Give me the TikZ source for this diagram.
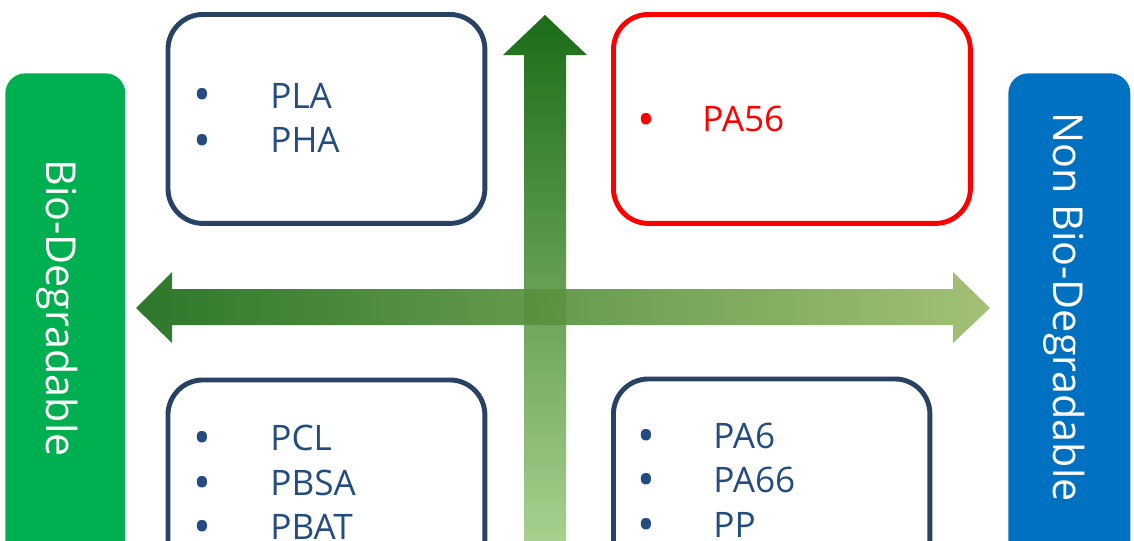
\documentclass[tikz,border=0pt]{standalone}
\usepackage{fontspec}
\setmainfont{Open Sans}
\usepackage{xcolor}
\definecolor{bioGreen}{RGB}{0,176,80}
\definecolor{nonBlue}{RGB}{0,112,192}
\definecolor{boxBlue}{RGB}{40,66,100}
\definecolor{itemBlue}{RGB}{36,76,126}
\definecolor{itemRed}{RGB}{255,0,0}
\definecolor{arrowDark}{RGB}{28,108,24}
\definecolor{arrowLight}{RGB}{168,208,142}
\definecolor{arrowOlive}{RGB}{155,187,106}

\begin{document}
\begin{tikzpicture}[x=0.02cm,y=-0.02cm,
	box/.style={draw=#1, line width=2.8pt, rounded corners=0.7cm, anchor=north west, inner sep=0pt},
	bar/.style={fill=#1, rounded corners=0.4cm, anchor=north west, inner sep=0pt},
	barText/.style={text=white, font=\fontsize{23.5}{28}\selectfont, rotate=-90, anchor=base},
	item/.style={text=#1, font=\fontsize{20}{24}\selectfont, inner sep=0pt},
	dot/.style={text=#1, font=\fontsize{27}{28}\selectfont, inner sep=0pt, anchor=base}]
	\useasboundingbox (0,0) rectangle (1134,541);
	\clip (0,0) rectangle (1134,541);
	% side bars
	\node[bar=bioGreen, minimum width=2.4cm, minimum height=10.6cm] (bioBar) at (5,73) {};
	\node[bar=nonBlue, minimum width=2.44cm, minimum height=10.6cm] (nonBar) at (1008,73) {};
	\node[barText] (bioLbl) at (47,308) {Bio-Degradable};
	\node[barText] (nonLbl) at (1053,307) {Non Bio-Degradable};
	% quadrant boxes
	\node[box=boxBlue, minimum width=6.34cm, minimum height=4.18cm] (tl) at (165.5,12) {};
	\node[box=itemRed, minimum width=7.14cm, minimum height=4.18cm] (tr) at (611,12) {};
	\node[box=boxBlue, minimum width=6.34cm, minimum height=5cm] (bl) at (165.5,377.5) {};
	\node[box=boxBlue, minimum width=6.33cm, minimum height=5cm] (br) at (611,376.5) {};
	% arrows
	\shade[top color=arrowDark, bottom color=arrowLight]
		(524,541) -- (524,55) -- (503,55) -- (545,15) -- (587,55) -- (566,55) -- (566,541) -- cycle;
	\shade[left color=arrowDark, right color=arrowOlive, opacity=0.92]
		(136,308) -- (172,272) -- (172,289) -- (953,289) -- (953,272) -- (990,308)
		-- (953,343) -- (953,325) -- (172,325) -- (172,343) -- cycle;
	% lists
	\foreach \lbl/\y [count=\i] in {PLA/108,PHA/153} {
		\node[dot=itemBlue] (tlb\i) at (202,\y+4) {\textbullet};
		\node[item=itemBlue, anchor=base west] (tlt\i) at (270,\y) {\lbl};
	}
	\node[dot=itemRed] (trb1) at (646,136) {\textbullet};
	\node[item=itemRed, anchor=base west] (trt1) at (702,132) {PA56};
	\foreach \lbl/\y [count=\i] in {PCL/450,PBSA/495,PBAT/539} {
		\node[dot=itemBlue] (blb\i) at (202,\y+4) {\textbullet};
		\node[item=itemBlue, anchor=base west] (blt\i) at (270,\y) {\lbl};
	}
	\foreach \lbl/\y [count=\i] in {PA6/448,PA66/492,PP/537} {
		\node[dot=itemBlue] (brb\i) at (646,\y+4) {\textbullet};
		\node[item=itemBlue, anchor=base west] (brt\i) at (713,\y) {\lbl};
	}
\end{tikzpicture}
\end{document}
